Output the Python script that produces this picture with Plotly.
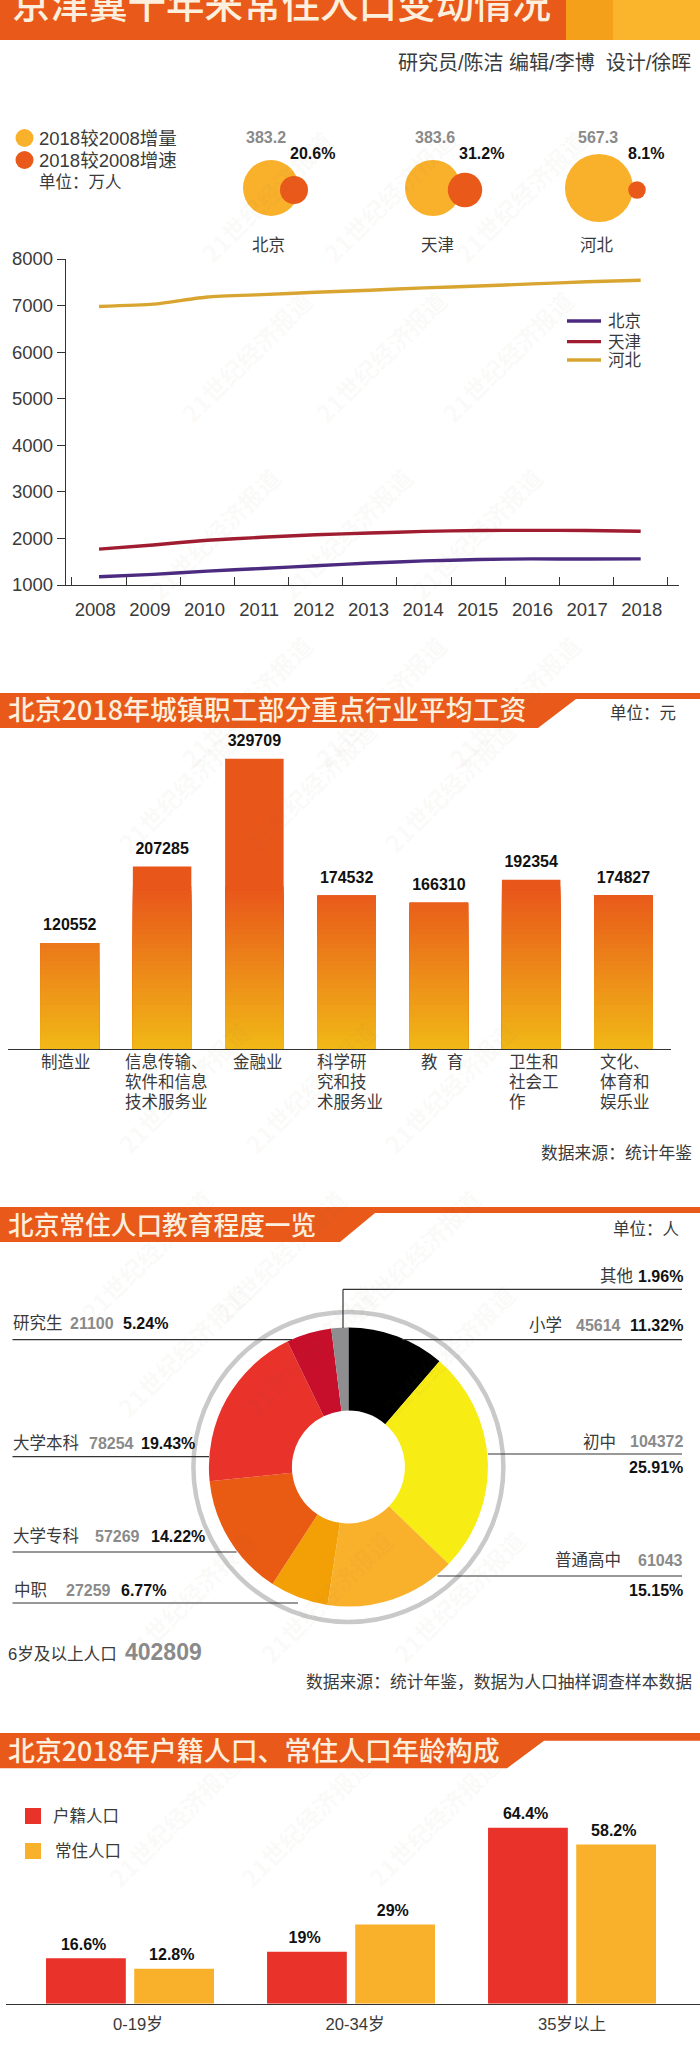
import plotly.graph_objects as go

W, H = 700, 2045
CJK = "Liberation Sans, Noto Sans CJK SC, sans-serif"
NARROW = "Liberation Sans, sans-serif"
TITLE_FONT = "Noto Sans CJK SC, sans-serif"
INK = "#3a3a3a"
NUM_GREY = "#8a8a8a"
ORANGE = "#E8591A"

# ---- data -----
years = [2008, 2009, 2010, 2011, 2012, 2013, 2014, 2015, 2016, 2017, 2018]
pop_beijing = [1176, 1228, 1299, 1355, 1413, 1472, 1517, 1547, 1562, 1557, 1560]
pop_tianjin = [1771, 1860, 1962, 2024, 2078, 2115, 2152, 2171, 2173, 2171, 2154]
pop_hebei = [6980, 7030, 7185, 7235, 7285, 7330, 7380, 7420, 7465, 7510, 7545]
cities = ["北京", "天津", "河北"]
city_increase = [383.2, 383.6, 567.3]
city_growth = [20.6, 31.2, 8.1]
wage_labels = [["制造业"], ["信息传输、", "软件和信息", "技术服务业"], ["金融业"], ["科学研", "究和技", "术服务业"],
               ["教  育"], ["卫生和", "社会工", "作"], ["文化、", "体育和", "娱乐业"]]
wage_values = [120552, 207285, 329709, 174532, 166310, 192354, 174827]
edu_names = ["小学", "初中", "普通高中", "中职", "大学专科", "大学本科", "研究生", "其他"]
edu_counts = [45614, 104372, 61043, 27259, 57269, 78254, 21100, 7898]
edu_shares = ["11.32%", "25.91%", "15.15%", "6.77%", "14.22%", "19.43%", "5.24%", "1.96%"]
edu_colors = ["#000000", "#F7EC13", "#F9B12B", "#F3A006", "#E95A12", "#E8322A", "#C70F2B", "#8E8E90"]
edu_total = 402809
age_groups = ["0-19岁", "20-34岁", "35岁以上"]
age_hukou = [16.6, 19, 64.4]
age_resident = [12.8, 29, 58.2]

# ---- pixel helpers (layout only) -----
def px(x):
    return x / W
def py(y):
    return 1 - y / H

ann = []
shapes = []

def note(text, x, y, size=16.5, color=INK, anchor="left", family=CJK, weight=None, va="middle"):
    f = dict(size=size, color=color, family=family)
    if weight:
        f["weight"] = weight
    ann.append(dict(text=text, x=px(x), y=py(y), xref="paper", yref="paper", showarrow=False,
                    xanchor=anchor, yanchor=va, font=f, borderpad=0, borderwidth=0))

def bold(text, x, y, size=16, color="#111111", anchor="left"):
    note(text, x, y, size=size, color=color, anchor=anchor, family=NARROW, weight=700)

def hline(y, x0, x1):
    shapes.append(dict(type="line", xref="paper", yref="paper", x0=px(x0), x1=px(x1), y0=py(y), y1=py(y),
                       line=dict(color="#333333", width=1.2)))

def header(top, stripe, bottom, x_top, x_bot, title, title_y, size):
    d = f"M 0 {py(top)} L 1 {py(top)} L 1 {py(stripe)} L {px(x_top)} {py(stripe)} L {px(x_bot)} {py(bottom)} L 0 {py(bottom)} Z"
    shapes.append(dict(type="path", path=d, xref="paper", yref="paper", fillcolor=ORANGE, line=dict(width=0)))
    note(title, 8, title_y, size=size, color="#FCEFDD", family=TITLE_FONT, weight=500)

fig = go.Figure()

# ---- top banner -----
def rect(x0, x1, y0, y1, color):
    shapes.append(dict(type="rect", xref="paper", yref="paper", x0=px(x0), x1=px(x1), y0=py(y0), y1=py(y1),
                       fillcolor=color, line=dict(width=0)))
rect(0, 566, 0, 40, ORANGE)
rect(566, 613, 0, 40, "#F5A01A")
rect(613, 700, 0, 40, "#FBB52C")
note("京津冀十年来常住人口变动情况", 12, 1, size=38.5, color="#FCEFDD", family=TITLE_FONT, weight=500)
note("研究员/陈洁 编辑/李博&nbsp;&nbsp;设计/徐晖", 691, 63, size=20, anchor="right")

# ---- bubble row on a pixel overlay axis -----
yellow_x = [271, 433, 599]
orange_x = [294, 465, 637]
fig.add_trace(go.Scatter(x=yellow_x, y=[188] * 3, xaxis="x4", yaxis="y4", mode="markers", hoverinfo="skip",
                         marker=dict(size=city_increase, sizemode="area", sizeref=2 * 383.2 / 56 ** 2, opacity=1,
                                     color="#F9B12B", line=dict(width=0))))
fig.add_trace(go.Scatter(x=orange_x, y=[190] * 3, xaxis="x4", yaxis="y4", mode="markers", hoverinfo="skip",
                         marker=dict(size=city_growth, sizemode="area", sizeref=2 * 20.6 / 28 ** 2, opacity=1,
                                     color=ORANGE, line=dict(width=0))))
fig.add_trace(go.Scatter(x=[24.5, 24.5], y=[138, 160], xaxis="x4", yaxis="y4", mode="markers", hoverinfo="skip",
                         marker=dict(size=18, color=["#F9B12B", ORANGE], opacity=1, line=dict(width=0))))
note("2018较2008增量", 39, 138, size=18.5)
note("2018较2008增速", 39, 160, size=18.5)
note("单位：万人", 39, 182, size=16.5)
for c, inc, gr, xi, xg, xc in zip(cities, city_increase, city_growth, [266, 435, 598], [312.5, 481, 646], [268, 438, 597]):
    bold(f"{inc}", xi, 137.5, color=NUM_GREY, anchor="center")
    bold(f"{gr}%", xg, 154, anchor="center")
    note(c, xc, 245, anchor="center")

# ---- line chart -----
for name, vals, col in [("北京", pop_beijing, "#4B2A80"), ("天津", pop_tianjin, "#A01C30"), ("河北", pop_hebei, "#D9A531")]:
    fig.add_trace(go.Scatter(x=years, y=vals, name=name, mode="lines", xaxis="x", yaxis="y", hoverinfo="skip",
                             line=dict(color=col, width=3.4, shape="spline", smoothing=0.5)))
for name, yy, col in [("北京", 321, "#4B2A80"), ("天津", 341.6, "#A01C30"), ("河北", 360, "#D9A531")]:
    shapes.append(dict(type="line", xref="paper", yref="paper", x0=px(567), x1=px(601), y0=py(yy), y1=py(yy),
                       line=dict(color=col, width=3.4)))
    note(name, 608, yy, size=16.5)

# ---- wage bars: overlaid bars form the vertical gradient -----
wage_x = list(range(len(wage_values)))
def level_color(level):
    f = min(level / 185000, 1)
    a, b = (241, 186, 23), (232, 86, 26)
    return "rgb(%d,%d,%d)" % tuple(round(p + (q - p) * f) for p, q in zip(a, b))
for level in [max(wage_values)] + list(range(185000, 0, -5000)):
    fig.add_trace(go.Bar(x=wage_x, y=[min(v, level) for v in wage_values], xaxis="x2", yaxis="y2", width=0.634,
                         hoverinfo="skip", marker=dict(color=level_color(level), line=dict(width=0))))
fig.add_trace(go.Scatter(x=wage_x, y=wage_values, text=[str(v) for v in wage_values], mode="text+markers", xaxis="x2", yaxis="y2",
                         hoverinfo="skip", textposition="top center", marker=dict(size=12, opacity=0), cliponaxis=False,
                         textfont=dict(family=NARROW, size=16, color="#111111", weight=700)))
header(693, 699, 728, 576, 538, "北京2018年城镇职工部分重点行业平均工资", 709, 26.9)
note("单位：元", 676, 713, anchor="right")
for lines, x0 in zip(wage_labels, [41, 125, 233, 317, 421, 509, 600]):
    for i, t in enumerate(lines):
        note(t.replace(" ", "&nbsp;"), x0, 1062 + 20 * i, size=16.5)
note("数据来源：统计年鉴", 692, 1153, anchor="right", size=16.8)

# ---- education donut -----
fig.add_trace(go.Pie(labels=edu_names, values=edu_counts, sort=False, direction="clockwise", rotation=0, hole=0.405,
                     textinfo="none", hoverinfo="skip", showlegend=False,
                     marker=dict(colors=edu_colors, line=dict(width=0)),
                     domain=dict(x=[px(348.4 - 139.5), px(348.4 + 139.5)], y=[py(1467 + 139.5), py(1467 - 139.5)])))
shapes.append(dict(type="circle", xref="paper", yref="paper", x0=px(348.4 - 155), x1=px(348.4 + 155),
                   y0=py(1467 + 155), y1=py(1467 - 155), line=dict(color="#C9C9C9", width=4.5), layer="below"))
header(1207, 1213, 1242, 375, 340, "北京常住人口教育程度一览", 1223, 25.7)
note("单位：人", 678.6, 1229, anchor="right")

hline(1289.3, 343, 682)
shapes.append(dict(type="line", xref="paper", yref="paper", x0=px(343), x1=px(343), y0=py(1289.3), y1=py(1328),
                   line=dict(color="#333333", width=1.2)))
hline(1339.7, 402, 682)
hline(1454, 488, 682)
hline(1576, 437.5, 682)
hline(1339.7, 12.5, 292)
hline(1456.7, 12.5, 209)
hline(1552, 12.5, 236.6)
hline(1603, 12.5, 298)

edu = {n: (c, s) for n, c, s in zip(edu_names, edu_counts, edu_shares)}
for n, lx, nx, sx, yy in [("研究生", 13.4, 70, 122.8, 1323), ("大学本科", 13.4, 89, 141, 1443),
                          ("大学专科", 13.4, 95, 151, 1536), ("中职", 14.3, 66, 120.5, 1590)]:
    note(n, lx, yy)
    bold(str(edu[n][0]), nx, yy, color=NUM_GREY)
    bold(edu[n][1], sx, yy)
note("其他", 633, 1276, anchor="right")
bold(edu["其他"][1], 682.6, 1276, anchor="right")
note("小学", 529, 1325)
bold(str(edu["小学"][0]), 621, 1325, color=NUM_GREY, anchor="right")
bold(edu["小学"][1], 682.6, 1325, anchor="right")
note("初中", 616, 1441.7, anchor="right")
bold(str(edu["初中"][0]), 682.6, 1441.7, color=NUM_GREY, anchor="right")
bold(edu["初中"][1], 682.6, 1467.7, anchor="right")
note("普通高中", 621, 1560, anchor="right")
bold(str(edu["普通高中"][0]), 682.6, 1560, color=NUM_GREY, anchor="right")
bold(edu["普通高中"][1], 682.6, 1590, anchor="right")
note("6岁及以上人口", 8, 1654, size=16.6)
bold(str(edu_total), 125, 1652, size=23, color=NUM_GREY)
note("数据来源：统计年鉴，数据为人口抽样调查样本数据", 692, 1682.7, anchor="right", size=16.8)

# ---- age bars -----
age_x = list(range(len(age_groups)))
for name, vals, off, col in [("户籍人口", age_hukou, -0.38, "#E8322A"), ("常住人口", age_resident, 0.019, "#F9B12B")]:
    fig.add_trace(go.Bar(x=age_x, y=vals, name=name, xaxis="x3", yaxis="y3", width=0.361, offset=off,
                         hoverinfo="skip", marker=dict(color=col, line=dict(width=0))))
    fig.add_trace(go.Scatter(x=[i + off + 0.17 for i in age_x], y=vals, text=[f"{v}%" for v in vals], mode="text+markers",
                             xaxis="x3", yaxis="y3", hoverinfo="skip", textposition="top center", marker=dict(size=6, opacity=0),
                             cliponaxis=False, textfont=dict(family=NARROW, size=16, color="#111111", weight=700)))
header(1733, 1740.7, 1768.3, 544, 507, "北京2018年户籍人口、常住人口年龄构成", 1749, 26.9)
rect(25, 41, 1808, 1824, "#E8322A")
rect(25, 41, 1843, 1859, "#F9B12B")
note("户籍人口", 52.7, 1816)
note("常住人口", 54.5, 1851)

# ---- watermark -----
watermark_rows = [(120, [190, 388, 596]), (280, [170, 380, 583]), (457, [138, 346, 552]), (625, [170, 380, 590]),
                  (786, [107, 310, 525]), (1087, [107, 310, 525]), (1255, [70, 280, 490]), (1427, [107, 310, 525]),
                  (1673, [113, 326, 535]), (1897, [98, 306, 510])]
for yy, xs in watermark_rows:
    for xx in xs:
        ann.append(dict(text="21世纪经济报道", x=px(xx), y=py(yy), xref="paper", yref="paper", showarrow=False,
                        textangle=-45, font=dict(size=24, color="rgba(120,100,90,0.05)", family=TITLE_FONT, weight=700)))

axis_line = dict(showline=True, linecolor="#333333", linewidth=1.4, zeroline=False, showgrid=False, automargin=False)
fig.update_layout(
    width=W, height=H, autosize=False, margin=dict(l=0, r=0, t=0, b=0, autoexpand=False), showlegend=False,
    paper_bgcolor="white", plot_bgcolor="rgba(0,0,0,0)", barmode="overlay",
    font=dict(family=CJK, color=INK), annotations=ann, shapes=shapes,
    xaxis=dict(domain=[px(66), px(678.6)], range=[2007.39, 2018.7], anchor="y", tickmode="array", tickangle=0,
               tickvals=[y - 0.07 + 0.009 * i for i, y in enumerate(years)], ticktext=[str(y) for y in years], ticks="outside", ticklen=8,
               tickcolor="rgba(0,0,0,0)", tickfont=dict(size=18.5, color=INK),
               minor=dict(tick0=2007.5, dtick=1, ticks="inside", ticklen=8, tickcolor="#333333", tickwidth=1), **axis_line),
    yaxis=dict(domain=[py(585), py(259)], range=[1000, 8000], anchor="x", tickmode="array",
               tickvals=list(range(1000, 8001, 1000)), ticks="outside", ticklen=8, tickcolor="#333333", tickwidth=1,
               tickfont=dict(size=18.5, color=INK), **axis_line),
    xaxis2=dict(domain=[px(8), px(670.5)], range=[-0.67, 6.51], anchor="y2", showticklabels=False, ticks="", **axis_line),
    yaxis2=dict(domain=[py(1049), py(741)], range=[0, 350000], anchor="x2", visible=False),
    xaxis3=dict(domain=[px(5.8), 1], range=[-0.562, 2.579], anchor="y3", tickmode="array", tickvals=[0.036, 1.018, 2], tickangle=0,
                ticktext=age_groups, ticks="outside", ticklen=5, tickcolor="rgba(0,0,0,0)", tickfont=dict(size=16.6, color=INK), **axis_line),
    yaxis3=dict(domain=[py(2003.7), py(1798.7)], range=[0, 75], anchor="x3", visible=False),
    xaxis4=dict(domain=[0, 1], range=[0, W], anchor="y4", visible=False),
    yaxis4=dict(domain=[0, 1], range=[H, 0], anchor="x4", visible=False),
)
fig.write_html("out.html", config=dict(displayModeBar=False),
               post_script="document.body.style.margin='0';document.documentElement.style.overflow='hidden';")
